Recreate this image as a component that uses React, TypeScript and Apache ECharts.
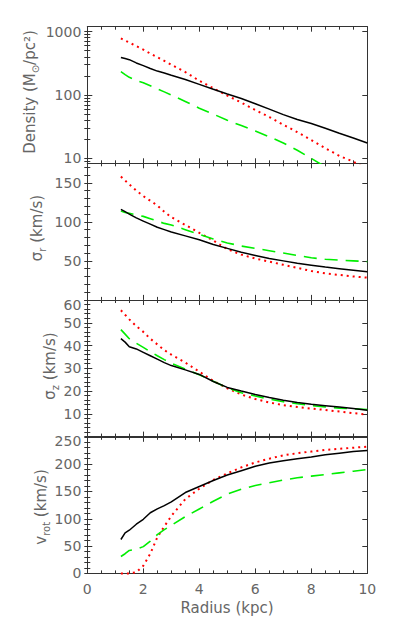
import React, { useEffect, useRef } from "react";
import * as echarts from "echarts";

// Radius grid (kpc)
const radius = [1.2, 1.35, 1.5, 1.75, 2, 2.25, 2.5, 2.75, 3, 3.5, 4, 4.5, 5, 5.5, 6, 6.5, 7, 7.5, 8, 8.5, 9, 9.5, 10];

// Density (Msun/pc^2)
const densBlack = [390, 375, 360, 320, 290, 262, 238, 222, 205, 175, 147, 123, 104, 88, 73, 60, 49, 41, 35.5, 30, 25, 21, 17.5];
const densRed = [780, 720, 670, 590, 520, 450, 395, 345, 300, 230, 168, 128, 98, 76, 58, 45, 34, 26, 19.5, 14.5, 11, 8.9, 6.8];
const densGreen = [233, 210, 190, 170, 156, 140, 125, 112, 100, 79, 62, 50, 40, 33, 27, 22, 17.5, 13.5, 10, 7.4, 5.6, 4.4, 3.4];

// sigma_r (km/s)
const sigRBlack = [116, 113, 110, 105, 101, 97, 93, 90, 87, 82, 77, 71, 66, 61, 57, 53, 50, 47, 44.5, 42, 40, 38, 36];
const sigRRed = [158, 153, 148, 140, 133, 127, 121, 113, 106, 96, 86, 76, 65, 58, 53, 49, 45, 41, 37, 34, 32, 30, 28.5];
const sigRGreen = [114, 112, 111, 109, 107, 104, 101, 98, 96, 90, 84, 78, 73, 69, 66, 63, 60, 57, 54, 52, 51, 50, 49];

// sigma_z (km/s)
const sigZBlack = [43, 41.5, 39.5, 38.5, 37, 35.5, 34, 32.5, 31.2, 29.3, 27.3, 24.2, 21.6, 20, 18.5, 17.2, 16, 15, 14.2, 13.6, 13, 12.3, 11.6];
const sigZRed = [55.5, 53.5, 51.5, 48.5, 46, 43, 40.5, 38, 36, 32.5, 28.5, 24.5, 21.2, 18.5, 16.5, 15, 13.8, 13, 12.3, 11.7, 11, 10.3, 9.7];
const sigZGreen = [47, 45, 43, 41, 39.2, 37.3, 35.5, 33.8, 32.2, 29.6, 27.2, 24.3, 21.5, 19.3, 17.8, 16.5, 15.3, 14.4, 13.6, 13, 12.5, 12.2, 11.9];

// v_rot (km/s)
const vrotBlack = [62, 74, 79, 90, 99, 111, 118, 124, 131, 148, 159, 170, 180, 188, 196, 202, 206, 210, 213, 217, 220, 223, 225];
const vrotRed = [0, 0, 0, 2, 14, 36, 66, 86, 105, 136, 155, 171, 183, 194, 203, 210, 216, 220, 223, 226, 228, 230, 232];
const vrotGreen = [31, 36, 42, 44, 49, 59, 71, 80, 88, 104, 118, 132, 145, 154, 161, 166, 171, 175, 178, 181, 184, 187, 190];

// Tick values and labelled ticks
const xTicks = [0, 2, 4, 6, 8, 10];
const densTicks = [10, 100, 1000];
const sigRTicks = [0, 50, 100, 150];
const sigRLabels = [50, 100, 150];
const sigZTicks = [0, 10, 20, 30, 40, 50, 60];
const sigZLabels = [10, 20, 30, 40, 50, 60];
const vrotTicks = [0, 50, 100, 150, 200, 250];

const FONT = "DejaVu Sans";
const AXIS_COLOR = "#333";
const LABEL_COLOR = "#666";

function range(a: number, b: number, step: number) {
  const out: number[] = [];
  for (let v = a; v <= b + 1e-9; v += step) out.push(Math.round(v * 1000) / 1000);
  return out;
}

const logMinor: number[] = [];
[1, 10, 100, 1000].forEach((d) => {
  for (let k = 1; k <= 9; k++) {
    const lv = Math.log10(k * d);
    if (lv >= 0.924 && lv <= 3.076) logMinor.push(lv);
  }
});

const panels = [
  { min: 0.924, max: 3.076, major: densTicks.map((v) => Math.log10(v)), labels: densTicks.map((v) => Math.log10(v)), minor: logMinor, fmt: (v: number) => String(Math.round(Math.pow(10, v))) },
  { min: 0, max: 175, major: sigRTicks, labels: sigRLabels, minor: range(0, 170, 10), fmt: (v: number) => String(v) },
  { min: 0, max: 60, major: sigZTicks, labels: sigZLabels, minor: range(0, 60, 2), fmt: (v: number) => (v === 60 ? "{t|60}" : String(v)) },
  { min: 0, max: 250, major: vrotTicks, labels: vrotTicks, minor: range(0, 250, 10), fmt: (v: number) => (v === 250 ? "{t|250}" : String(v)) },
];

const gridTops = [26.7, 163.3, 300, 436.8];
const GRID_H = 136.6;

export default function App() {
  const ref = useRef<HTMLDivElement>(null);
  useEffect(() => {
    if (!ref.current) return;
    const chart = echarts.init(ref.current, null, { renderer: "svg" });

    const grids = gridTops.map((t) => ({ left: 87.3, right: 25.7, top: t, height: GRID_H }));

    const xAxis: any[] = [];
    const yAxis: any[] = [];
    panels.forEach((p, i) => {
      ["bottom", "top"].forEach((pos) => {
        xAxis.push({
          type: "value",
          gridIndex: i,
          position: pos,
          min: 0,
          max: 10,
          interval: 2,
          axisLine: { show: true, onZero: false, lineStyle: { color: AXIS_COLOR, width: 1 } },
          axisTick: { show: true, inside: true, length: 5, lineStyle: { color: AXIS_COLOR } },
          minorTick: { show: true, splitNumber: 4, length: 3, lineStyle: { color: AXIS_COLOR } },
          axisLabel: {
            show: i === 3 && pos === "bottom",
            color: LABEL_COLOR,
            fontFamily: FONT,
            fontSize: 14,
            margin: 9,
            customValues: xTicks,
          },
          splitLine: { show: false },
        });
      });
      ["left", "right"].forEach((pos) => {
        yAxis.push({
          type: "value",
          gridIndex: i,
          position: pos,
          min: p.min,
          max: p.max,
          axisLine: { show: true, onZero: false, lineStyle: { color: AXIS_COLOR, width: 1 } },
          axisTick: { show: true, inside: true, length: 5, customValues: p.major, lineStyle: { color: AXIS_COLOR } },
          axisLabel: {
            show: pos === "left",
            customValues: p.labels,
            formatter: p.fmt,
            color: LABEL_COLOR,
            fontFamily: FONT,
            fontSize: 14,
            margin: 6,
            rich: {
              t: { color: LABEL_COLOR, fontFamily: FONT, fontSize: 14, padding: [9, 0, 0, 0] },
            },
          },
          splitLine: { show: false },
        });
        yAxis.push({
          type: "value",
          gridIndex: i,
          position: pos,
          min: p.min,
          max: p.max,
          axisLine: { show: false },
          axisTick: { show: true, inside: true, length: 3, customValues: p.minor, lineStyle: { color: AXIS_COLOR } },
          axisLabel: { show: false },
          splitLine: { show: false },
        });
      });
    });

    const styles: any = {
      black: { color: "#000000", width: 1.5, type: "solid" },
      red: { color: "#ff0000", width: 2, type: [2, 4] },
      green: { color: "#00ee00", width: 1.6, type: [13, 8] },
    };

    const mk = (vals: number[], kind: string, gi: number, tf?: (v: number) => number, clip = true) => ({
      type: "line",
      xAxisIndex: gi * 2,
      yAxisIndex: gi * 4,
      data: radius.map((r, k) => [r, tf ? tf(vals[k]) : vals[k]]),
      showSymbol: false,
      symbol: "none",
      clip,
      lineStyle: styles[kind],
      z: kind === "black" ? 3 : 2,
    });

    const lg = (v: number) => Math.log10(v);
    const series = [
      mk(densBlack, "black", 0, lg),
      mk(densRed, "red", 0, lg),
      mk(densGreen, "green", 0, lg),
      mk(sigRBlack, "black", 1),
      mk(sigRRed, "red", 1),
      mk(sigRGreen, "green", 1),
      mk(sigZBlack, "black", 2),
      mk(sigZRed, "red", 2),
      mk(sigZGreen, "green", 2),
      mk(vrotBlack, "black", 3, undefined, false),
      mk(vrotRed, "red", 3, undefined, false),
      mk(vrotGreen, "green", 3, undefined, false),
    ];

    const rich = {
      n: { fontSize: 15, fontFamily: FONT, fill: LABEL_COLOR, lineHeight: 20 },
      s: { fontSize: 10, fontFamily: FONT, fill: LABEL_COLOR, lineHeight: 20, verticalAlign: "bottom" },
    };
    const title = (text: string, x: number, y: number) => ({
      type: "text",
      x,
      y,
      rotation: Math.PI / 2,
      style: {
        text,
        rich,
        fill: LABEL_COLOR,
        fontFamily: FONT,
        fontSize: 15,
        align: "center",
        verticalAlign: "middle",
      },
    });

    chart.setOption({
      animation: false,
      backgroundColor: "#ffffff",
      grid: grids,
      xAxis,
      yAxis,
      series,
      graphic: [
        title("{n|Density (M}{s|⊙}{n|/pc²)}", 30, 92),
        title("{n|σ}{s|r}{n| (km/s)}", 37, 228),
        title("{n|σ}{s|z}{n| (km/s)}", 50, 366),
        title("{n|v}{s|rot}{n| (km/s)}", 41, 507),
        {
          type: "text",
          x: 227,
          y: 608,
          style: {
            text: "Radius (kpc)",
            fill: LABEL_COLOR,
            fontFamily: FONT,
            fontSize: 15,
            align: "center",
            verticalAlign: "middle",
          },
        },
      ],
    });
    return () => chart.dispose();
  }, []);
  return <div ref={ref} style={{ position: "absolute", left: 0, top: 0, width: 393, height: 629 }} />;
}
